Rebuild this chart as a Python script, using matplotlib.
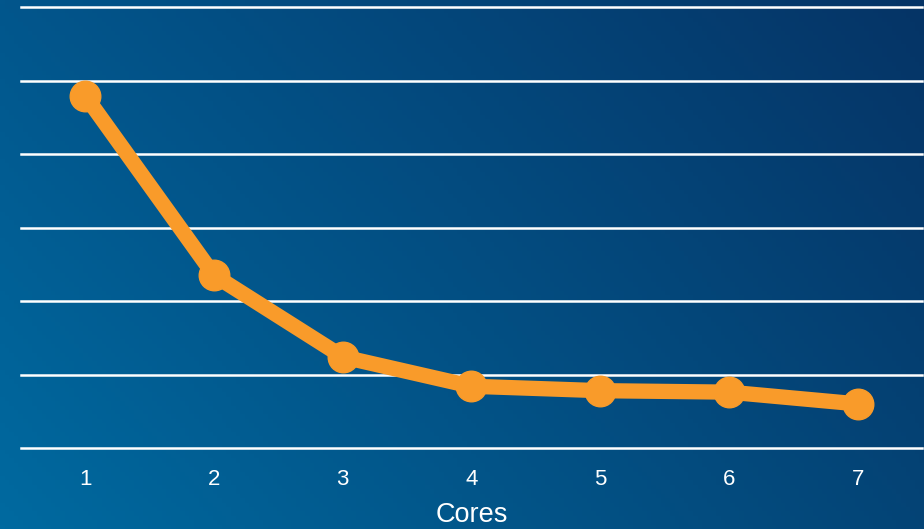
import numpy as np
import matplotlib.pyplot as plt

cores = [1, 2, 3, 4, 5, 6, 7]
tick_labels = ["1", "2", "3", "4", "5", "6", "7"]
runtime = [47.9, 23.5, 12.4, 8.4, 7.8, 7.6, 6.0]

fig = plt.figure(figsize=(9.24, 5.29), dpi=100)

# blue gradient background, lighter bottom-left to dark navy top-right
bg = fig.add_axes([0, 0, 1, 1], zorder=0)
bg.axis("off")
tl = np.array([2, 86, 140]) / 255
bl = np.array([0, 106, 160]) / 255
tr = np.array([6, 52, 102]) / 255
br = np.array([4, 68, 118]) / 255
u = np.linspace(0, 1, 200)[None, :, None]
v = np.linspace(0, 1, 120)[:, None, None]
img = (1 - v) * ((1 - u) * tl + u * tr) + v * ((1 - u) * bl + u * br)
bg.imshow(img, aspect="auto", extent=[0, 1, 0, 1])
bg.set_xlim(0, 1)
bg.set_ylim(0, 1)

ax = fig.add_axes([21 / 924, 81 / 529, 901 / 924, 441 / 529], zorder=1)
ax.patch.set_alpha(0)

ax.set_ylim(0, 60)
ax.set_yticks(np.arange(0, 61, 10))
ax.set_yticklabels([])
ax.yaxis.grid(True, color="white", linewidth=1.8)
for gl in ax.get_ygridlines():
    gl.set_clip_on(False)
ax.set_axisbelow(True)
ax.tick_params(axis="y", length=0)

ax.plot(cores, runtime, color="#F99B2A", linewidth=11, marker="o",
        markersize=22, solid_capstyle="round", solid_joinstyle="round", zorder=3)

ax.set_xlim(0.5, 7.5)
ax.set_xticks(cores)
ax.set_xticklabels(tick_labels, color="white", fontsize=16, family="Liberation Sans")
ax.tick_params(axis="x", length=0, pad=15)
ax.set_xlabel("Cores", color="white", fontsize=19.5, family="Liberation Sans", labelpad=9)

for s in ax.spines.values():
    s.set_visible(False)

fig.savefig("out.png", dpi=100)
